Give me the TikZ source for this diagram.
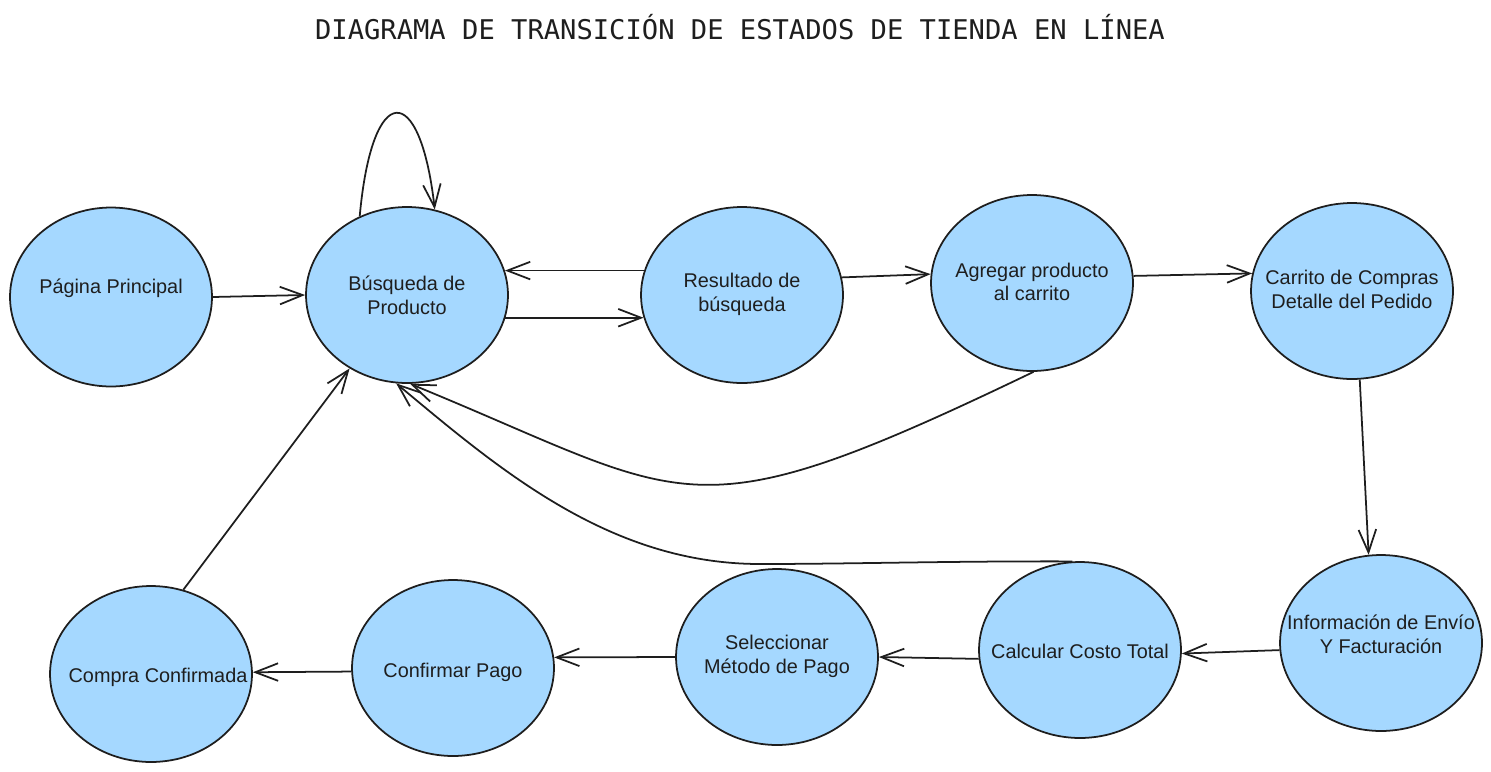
\documentclass[tikz,border=0pt]{standalone}
\usepackage{fontspec}
\setmainfont{Liberation Sans}
\newfontfamily\titulofont{DejaVu Sans Mono}
\usetikzlibrary{shapes,arrows.meta,positioning,calc}
\definecolor{relleno}{HTML}{A5D8FF}
\definecolor{trazo}{HTML}{1E1E1E}
% texto centrado sin ensanchar la elipse (#1 = ajuste vertical)
\newcommand{\txt}[2][0pt]{\raisebox{#1}[0pt][0pt]{\makebox[0pt]{\begin{tabular}{@{}c@{}}#2\end{tabular}}}}
\tikzset{
    estado/.style={
        ellipse,                  % forma de estado
        draw=trazo,
        fill=relleno,             % azul claro
        line width=1pt,
        minimum width=4.04cm,
        minimum height=3.52cm,
        inner sep=0pt,
        text=trazo,
        font=\fontsize{11.3}{13.6}\selectfont
    },
    transicion/.style={
        draw=trazo,
        line width=1pt,
        -{Straight Barb[length=13pt,width=10pt]}  % punta abierta
    }
}
\begin{document}
\begin{tikzpicture}[x=0.02cm,y=-0.02cm]
    \useasboundingbox (0,0) rectangle (1491,771);
    \node[text=trazo] (titulo) at (740,27)
        {\titulofont\fontsize{15.45}{18}\selectfont DIAGRAMA DE TRANSICIÓN DE ESTADOS DE TIENDA EN LÍNEA};

    % fila superior
    \node[estado, minimum height=3.58cm] (pag) at (111,297) {\txt[1.7pt]{Página Principal}};
    \node[estado] (bus) at (407,295) {\txt[-4.5pt]{Búsqueda de\\Producto}};
    \node[estado] (res) at (742,295) {\txt[-2.8pt]{Resultado de\\búsqueda}};
    \node[estado] (agr) at (1032,283) {\txt[-3.4pt]{Agregar producto\\al carrito}};
    \node[estado] (car) at (1352,291) {\txt[-3.4pt]{Carrito de Compras\\Detalle del Pedido}};

    % fila inferior
    \node[estado] (inf) at (1381,643) {\txt[0.6pt]{Información de Envío\\Y Facturación}};
    \node[estado] (cal) at (1080,650) {\txt[-5.1pt]{Calcular Costo Total}};
    \node[estado] (sel) at (777,657) {\txt[-2.8pt]{Seleccionar\\Método de Pago}};
    \node[estado] (con) at (453,668) {\txt[-5.7pt]{Confirmar Pago}};
    \node[estado] (com) at (151,674) {\txt[-5.1pt]{\hspace*{8pt}Compra Confirmada}};

    % transiciones
    \draw[transicion] (pag.east) -- (bus.west);
    \draw[transicion] (bus.121) .. controls (372,80) and (420,80) .. (bus.72);
    \draw[transicion] (res.166) -- (bus.14);
    \draw[transicion] (bus.-13) -- (res.193);
    \draw[transicion] (res.10) -- (agr.175);
    \draw[transicion] (agr.4) -- (car.170);
    \draw[transicion] (car.-85) -- (inf.98);
    \draw[transicion] (inf.184) -- (cal.-2);
    \draw[transicion] (cal.185) -- (sel.east);
    \draw[transicion] (sel.west) -- (con.6);
    \draw[transicion] (con.182) -- (com.1);
    \draw[transicion] (com.69) -- (bus.232);
    \draw[transicion] (agr.-89) .. controls (684,540) and (694,500) .. (bus.-88);
    \draw[transicion] (cal.95) .. controls (950,561) and (850,564) .. (760,564)
        .. controls (610,564) and (500,470) .. (bus.-97);
\end{tikzpicture}
\end{document}
